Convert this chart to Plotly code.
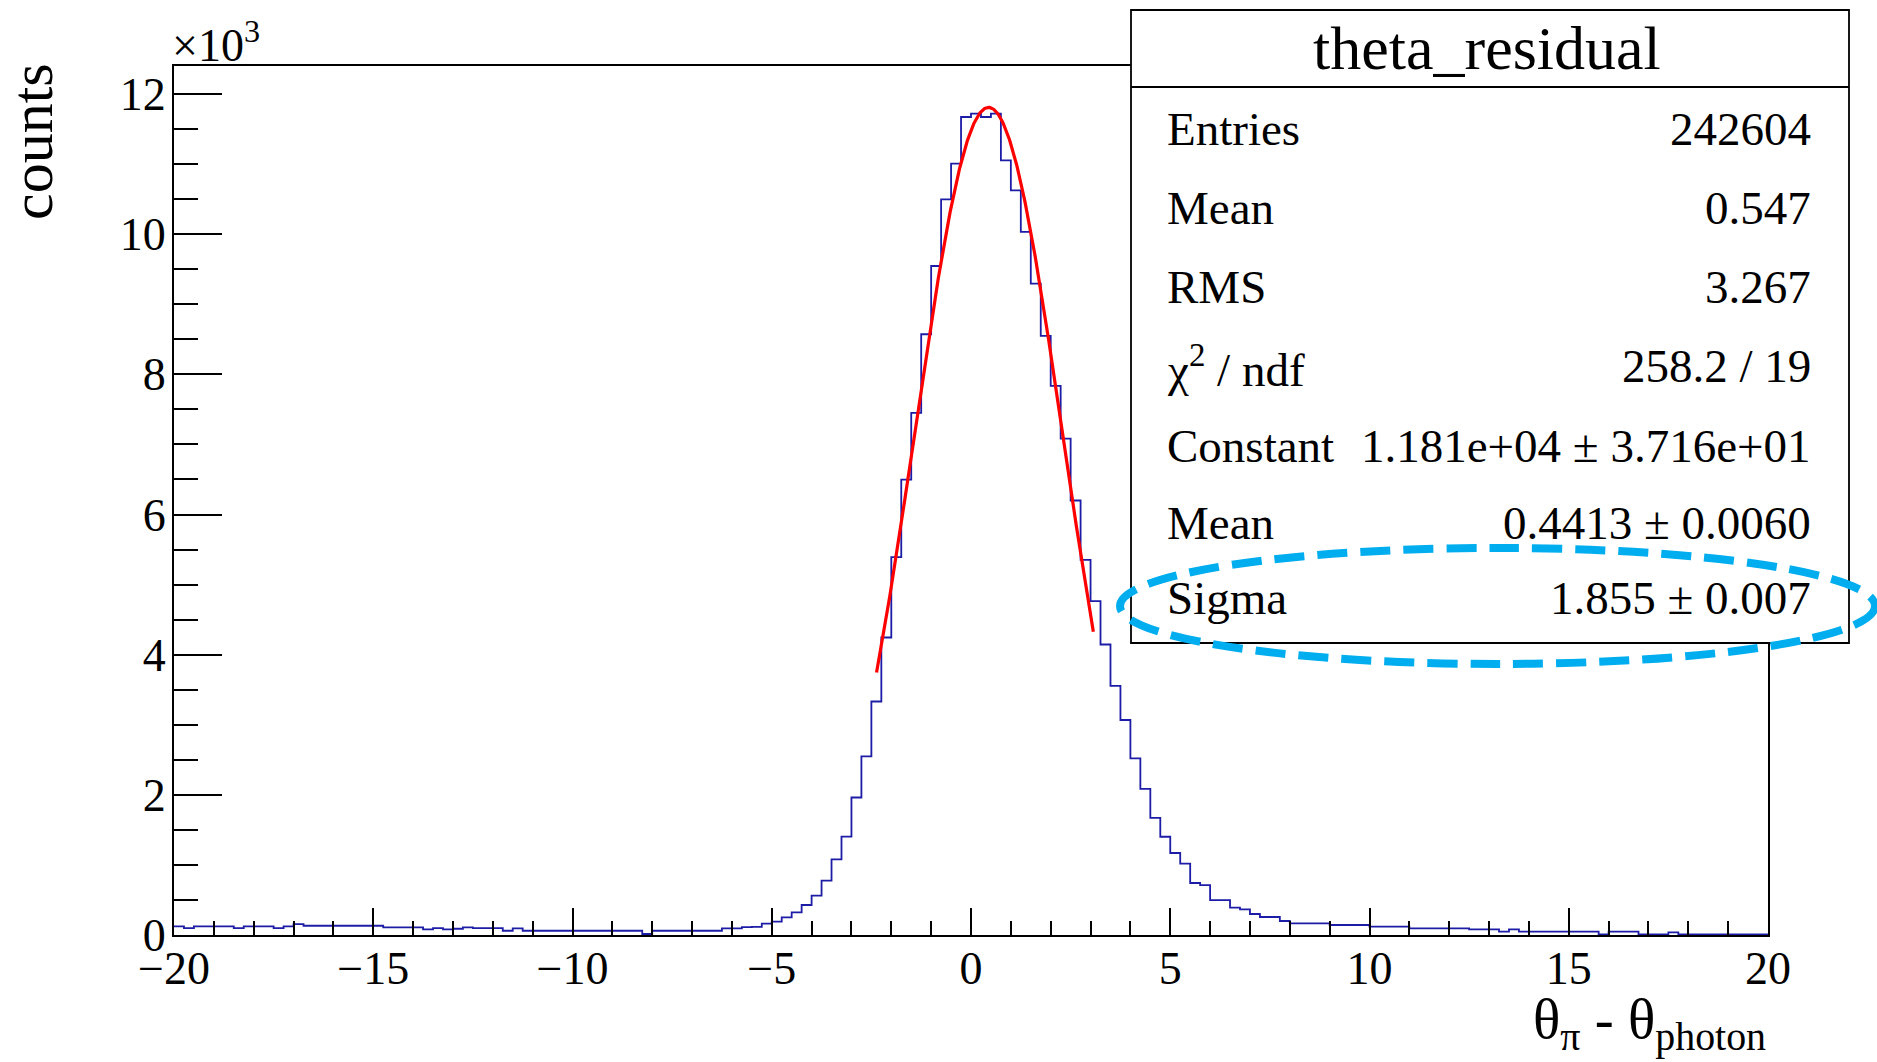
import numpy as np
import plotly.graph_objects as go

# ---- histogram: theta_residual, 160 bins of width 0.25 on [-20, 20] ----
bin_low = -20.0
bin_high = 20.0
bin_width = 0.25
counts = [
    122, 99, 122, 122, 122, 122, 99, 122, 122, 122,
    99, 122, 155, 132, 132, 132, 132, 132, 132, 132,
    132, 108, 108, 108, 108, 80, 99, 80, 89, 108,
    99, 99, 99, 61, 94, 61, 61, 61, 61, 61,
    61, 61, 61, 61, 61, 61, 61, 14, 61, 61,
    61, 61, 61, 61, 61, 94, 94, 112, 115, 163,
    190, 252, 323, 428, 561, 775, 1080, 1405, 1962, 2549,
    3332, 4245, 5392, 6499, 7450, 8572, 9546, 10498, 11007, 11672,
    11720, 11672, 11720, 11054, 10626, 10032, 9295, 8548, 7835, 7083,
    6200, 5352, 4764, 4145, 3556, 3068, 2519, 2085, 1671, 1402,
    1170, 1018, 742, 713, 499, 499, 390, 366, 300, 257,
    257, 200, 166, 166, 166, 166, 143, 143, 143, 143,
    119, 119, 119, 119, 95, 95, 95, 95, 95, 95,
    81, 81, 81, 48, 81, 48, 48, 48, 48, 48,
    48, 48, 48, 10, 48, 48, 48, 10, 10, 10,
    38, 10, 10, 10, 10, 10, 10, 10, 10, 10,
]

# ---- Gaussian fit result ----
fit_constant = 1.181e4
fit_mean = 0.4413
fit_sigma = 1.855
fit_x_min = -2.37
fit_x_max = 3.07

# ---- statistics box ----
stats_title = "theta_residual"
stats_names = ["Entries", "Mean", "RMS", "χ<sup>2</sup> / ndf", "Constant", "Mean", "Sigma"]
stats_values = ["242604", "0.547", "3.267", "258.2 / 19",
                "1.181e+04 ± 3.716e+01", "0.4413 ± 0.0060", "1.855 ± 0.007"]

# ---- axes ----
x_tick_vals = [-20, -15, -10, -5, 0, 5, 10, 15, 20]
y_tick_vals = [0, 2000, 4000, 6000, 8000, 10000, 12000]
y_tick_text = ["0", "2", "4", "6", "8", "10", "12"]
y_max = 12400
x_title = "θ<sub>π</sub> - θ<sub>photon</sub>"
y_title = "counts"
y_exponent = "×10<sup>3</sup>"

FONT = "Liberation Serif"
W_PX, H_PX = 1877, 1062
L, R, T, B = 174, 1768, 66, 935


def px(x):
    return (x - L) / (R - L)


def py(y):
    return (B - y) / (B - T)


edges = np.linspace(bin_low, bin_high, len(counts) + 1)
step_x = list(edges[:-1]) + [edges[-1]]
step_y = list(counts) + [counts[-1]]

fx = np.linspace(fit_x_min, fit_x_max, 300)
fy = fit_constant * np.exp(-0.5 * ((fx - fit_mean) / fit_sigma) ** 2)

fig = go.Figure()
fig.add_trace(go.Scatter(x=step_x, y=step_y, mode="lines", line_shape="hv",
                         line=dict(color="#1c1ca6", width=1.8), hoverinfo="skip"))
fig.add_trace(go.Scatter(x=fx, y=fy, mode="lines",
                         line=dict(color="#ff0000", width=3.2), hoverinfo="skip"))

axis_font = dict(family=FONT, size=46, color="black")
fig.update_xaxes(range=[bin_low, bin_high], tickmode="array", tickvals=x_tick_vals,
                 ticks="inside", ticklen=27, tickwidth=1.6, tickcolor="black",
                 minor=dict(tickmode="linear", tick0=0, dtick=1, ticks="inside",
                            ticklen=14, tickwidth=1.6, tickcolor="black"),
                 showline=True, linecolor="black", linewidth=2, mirror=True,
                 showgrid=False, zeroline=False, tickfont=axis_font,
                 ticklabelstandoff=-8)
fig.update_yaxes(range=[0, y_max], tickmode="array", tickvals=y_tick_vals, ticktext=y_tick_text,
                 ticks="inside", ticklen=48, tickwidth=1.6, tickcolor="black",
                 minor=dict(tickmode="linear", tick0=0, dtick=500, ticks="inside",
                            ticklen=24, tickwidth=1.6, tickcolor="black"),
                 showline=True, linecolor="black", linewidth=2, mirror=True,
                 showgrid=False, zeroline=False, tickfont=axis_font, ticklabelstandoff=-3)

shapes = [
    dict(type="rect", xref="paper", yref="paper",
         x0=px(1131), x1=px(1849), y0=py(643), y1=py(10),
         fillcolor="white", line=dict(color="black", width=1.8), layer="above"),
    dict(type="line", xref="paper", yref="paper",
         x0=px(1131), x1=px(1849), y0=py(87), y1=py(87),
         line=dict(color="black", width=1.8), layer="above"),
    dict(type="circle", xref="paper", yref="paper",
         x0=px(1120), x1=px(1875), y0=py(664), y1=py(548),
         line=dict(color="#00aeef", width=8, dash="30px,13px"), layer="above"),
]

annotations = [
    dict(text=stats_title, xref="paper", yref="paper", x=px(1487), y=py(48),
         xanchor="center", yanchor="middle", showarrow=False,
         font=dict(family=FONT, size=62, color="black")),
    dict(text=y_title, xref="paper", yref="paper", x=px(32), y=py(142),
         xanchor="center", yanchor="middle", textangle=-90, showarrow=False,
         font=dict(family=FONT, size=60, color="black")),
    dict(text=y_exponent, xref="paper", yref="paper", x=px(170), y=py(42),
         xanchor="left", yanchor="middle", showarrow=False,
         font=dict(family=FONT, size=46, color="black")),
    dict(text=x_title, xref="paper", yref="paper", x=px(1768), y=py(1023),
         xanchor="right", yanchor="middle", showarrow=False,
         font=dict(family=FONT, size=57, color="black")),
]
row_y = [129, 208, 287, 366, 446, 523, 598]
for name, val, yy in zip(stats_names, stats_values, row_y):
    annotations.append(dict(text=name, xref="paper", yref="paper", x=px(1165), y=py(yy),
                            xanchor="left", yanchor="middle", showarrow=False,
                            font=dict(family=FONT, size=47, color="black")))
    annotations.append(dict(text=val, xref="paper", yref="paper", x=px(1813), y=py(yy),
                            xanchor="right", yanchor="middle", showarrow=False,
                            font=dict(family=FONT, size=47, color="black")))

fig.update_layout(width=W_PX, height=H_PX, autosize=False,
                  margin=dict(l=L, r=W_PX - R, t=T, b=H_PX - B, pad=0),
                  paper_bgcolor="white", plot_bgcolor="white", showlegend=False,
                  shapes=shapes, annotations=annotations,
                  font=dict(family=FONT, color="black"))

fig.write_html("out.html")
